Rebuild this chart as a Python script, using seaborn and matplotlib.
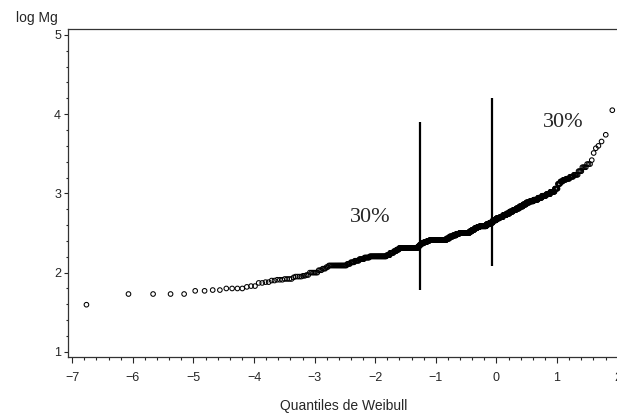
import numpy as np
import pandas as pd
import matplotlib
matplotlib.use("Agg")
import matplotlib.pyplot as plt
from matplotlib.ticker import MultipleLocator
import seaborn as sns

# Sorted log Mg sample, written as distinct values and how often each occurs
mg_levels = [
    1.595, 1.73, 1.77, 1.78, 1.80, 1.82, 1.83, 1.87, 1.88, 1.90,
    1.91, 1.92, 1.94, 1.95, 1.96, 1.97, 2.00, 2.03, 2.05, 2.07,
    2.09, 2.11, 2.13, 2.15, 2.17, 2.19, 2.205, 2.22, 2.25, 2.27,
    2.29, 2.31, 2.33, 2.35, 2.37, 2.385, 2.40, 2.41, 2.43, 2.455,
    2.47, 2.49, 2.50, 2.52, 2.54, 2.56, 2.575, 2.585, 2.61, 2.63,
    2.66, 2.685, 2.70, 2.725, 2.745, 2.77, 2.79, 2.81, 2.835, 2.86,
    2.885, 2.90, 2.92, 2.945, 2.97, 2.99, 3.02, 3.06, 3.12, 3.15,
    3.17, 3.185, 3.21, 3.235, 3.28, 3.33, 3.37, 3.42, 3.51, 3.57,
    3.60, 3.655, 3.74, 4.05,
]
mg_counts = [
    1, 4, 2, 2, 4, 1, 2, 2, 2, 2,
    3, 4, 1, 4, 2, 2, 6, 3, 3, 2,
    18, 4, 5, 6, 7, 8, 30, 7, 8, 6,
    6, 50, 5, 5, 9, 10, 8, 63, 13, 14,
    15, 14, 47, 12, 13, 13, 12, 35, 17, 17,
    18, 18, 17, 18, 17, 17, 16, 16, 17, 15,
    15, 17, 18, 15, 15, 13, 13, 8, 6, 6,
    6, 7, 6, 6, 4, 4, 3, 1, 1, 1,
    1, 1, 1, 1,
]

# Vertical separators and the shares written beside them
cut_x = [-1.26, -0.07]
cut_low = [1.78, 2.08]
cut_high = [3.90, 4.21]
share_text = ["30%", "30%"]
share_x = [-2.08, 1.10]
share_y = [2.69, 3.89]

x_ticks = [-7, -6, -5, -4, -3, -2, -1, 0, 1, 2]
y_ticks = [1, 2, 3, 4, 5]

# Weibull plotting positions: log(-log(1 - i/(n+1)))
sample = np.repeat(mg_levels, mg_counts)
n = len(sample)
p = np.arange(1, n + 1) / (n + 1)
df = pd.DataFrame({"quantile": np.log(-np.log(1 - p)), "log_mg": sample})

sns.set_style("ticks")
plt.rcParams["font.family"] = ["Liberation Sans", "DejaVu Sans"]

W, H = 617, 417
fig = plt.figure(figsize=(W / 100, H / 100), dpi=100)
ax = fig.add_axes([68 / W, 60 / H, (624 - 68) / W, 328 / H])

sns.scatterplot(data=df, x="quantile", y="log_mg", ax=ax, marker="o", s=11,
                facecolor="none", edgecolor="black", linewidth=0.75, legend=False)

ax.vlines(cut_x, cut_low, cut_high, color="black", linewidth=1.6)
for t, tx, ty in zip(share_text, share_x, share_y):
    ax.text(tx, ty, t, ha="center", va="center", fontsize=16,
            family=["Liberation Serif", "DejaVu Serif"])

ax.set_xlim(-7.07, 2.105)
ax.set_ylim(0.935, 5.075)
ax.set_xticks(x_ticks)
ax.set_yticks(y_ticks)
ax.xaxis.set_minor_locator(MultipleLocator(0.2))
ax.yaxis.set_minor_locator(MultipleLocator(0.2))
ax.tick_params(axis="x", which="major", length=4, width=0.8, pad=7, labelsize=9)
ax.tick_params(axis="x", which="minor", length=2.5, width=0.8)
ax.tick_params(axis="y", which="major", length=3, width=0.8, pad=2, labelsize=9)
ax.tick_params(axis="y", which="minor", length=1.8, width=0.8)
ax.set_xlabel("")
ax.set_ylabel("")
for side in ["left", "bottom", "top"]:
    ax.spines[side].set_color("#333333")
    ax.spines[side].set_linewidth(0.9)
ax.spines["right"].set_visible(False)

fig.text(37 / W, 1 - 18 / H, "log Mg", ha="center", va="center", fontsize=10)
fig.text(344 / W, 1 - 406 / H, "Quantiles de Weibull", ha="center", va="center", fontsize=10)

fig.savefig("out.png", dpi=100)
